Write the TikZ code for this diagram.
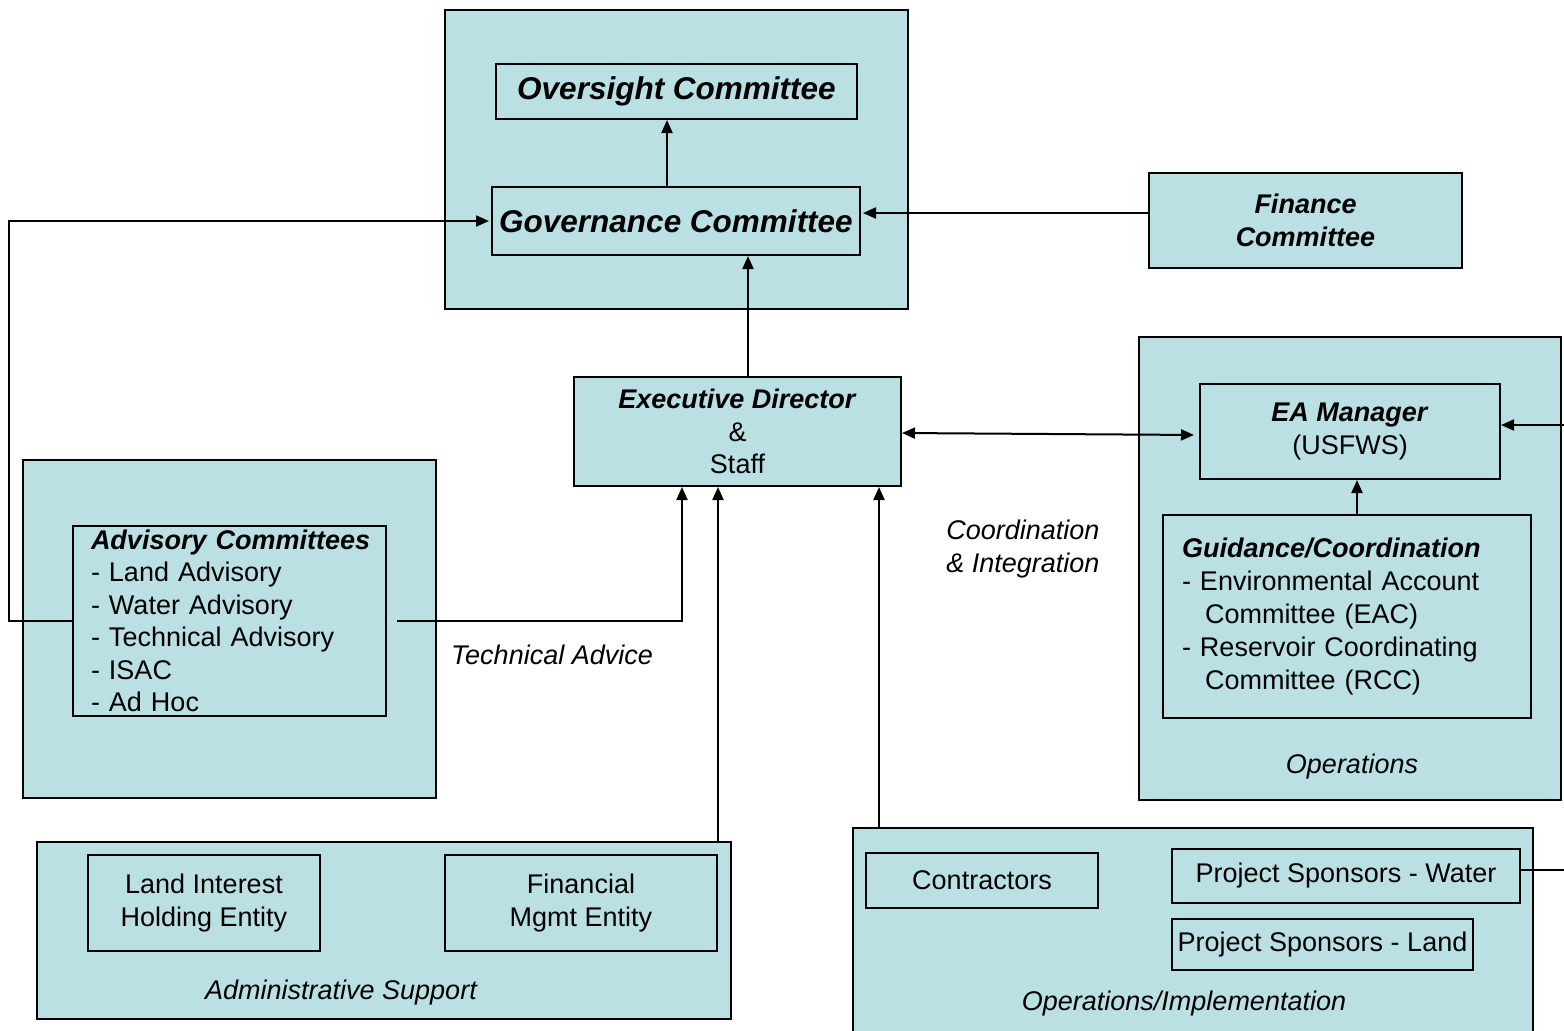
\documentclass[tikz,border=0pt]{standalone}
\usepackage{fontspec}
\setmainfont{Liberation Sans}
\usetikzlibrary{arrows.meta}
\definecolor{tealbg}{RGB}{187,224,227}
\tikzset{
  cont/.style={draw=black, fill=tealbg, line width=1pt, rectangle, inner sep=0pt},
  box/.style={draw=black, fill=tealbg, line width=1pt, rectangle, inner sep=0pt, align=center, font=\fontsize{13.5}{16.25}\selectfont},
  bigbox/.style={box, font=\fontsize{15.75}{19}\selectfont\bfseries\itshape},
  lbl/.style={inner sep=0pt, font=\fontsize{13.5}{16.25}\selectfont\itshape},
  arr/.style={line width=1pt, -{Triangle[length=6.5pt,width=5.5pt]}},
  arrb/.style={line width=1pt, {Triangle[length=6.5pt,width=5.5pt]}-{Triangle[length=6.5pt,width=5.5pt]}},
  ln/.style={line width=1pt}
}
\begin{document}
\begin{tikzpicture}[x=0.5pt,y=-0.5pt]
\useasboundingbox (0,0) rectangle (1564,1030);
\fill[white] (0,0) rectangle (1564,1030);
% containers
\node[cont, minimum width=231.5pt, minimum height=149.5pt] (top) at (676.5,159.5) {};
\node[cont, minimum width=206.5pt, minimum height=169pt] (advc) at (229.5,629) {};
\node[cont, minimum width=211pt, minimum height=231.5pt] (opsc) at (1350,568.5) {};
\node[cont, minimum width=347pt, minimum height=88.5pt] (adm) at (384,930.5) {};
\node[cont, minimum width=340pt, minimum height=103pt] (opi) at (1193,931) {};
% boxes
\node[bigbox, minimum width=180.5pt, minimum height=27.5pt] (ovs) at (676.5,91.5) {\raisebox{-1.5pt}{Oversight Committee}};
\node[bigbox, minimum width=184pt, minimum height=34pt] (gov) at (676,221) {Governance Committee};
\node[box, minimum width=156.5pt, minimum height=47.5pt, font=\fontsize{13.5}{16.25}\selectfont\bfseries\itshape] (fin) at (1305.5,220.5) {Finance\\Committee};
\node[box, minimum width=163.5pt, minimum height=54.5pt] (ed) at (737.5,431.5) {\textbf{\textit{Executive Director}}\\\&\\Staff};
\node[box, minimum width=150pt, minimum height=47.5pt] (ea) at (1350,431.5) {\textbf{\textit{EA Manager}}\\(USFWS)};
\node[box, minimum width=184pt, minimum height=101.5pt, text width=165pt, align=left, font=\fontsize{13.5}{16.5}\selectfont] (gd) at (1347,616.5) {\textbf{\textit{Guidance/Coordination}}\\- Environmental Account\\\hspace*{11.5pt}Committee (EAC)\\- Reservoir Coordinating\\\hspace*{11.5pt}Committee (RCC)};
\node[box, minimum width=156.5pt, minimum height=95pt, text width=138.5pt, align=left] (adv) at (229.5,621) {\mbox{\textbf{\textit{Advisory Committees}}}\\- Land Advisory\\- Water Advisory\\- Technical Advisory\\- ISAC\\- Ad Hoc};
\node[box, minimum width=116pt, minimum height=48pt] (lih) at (204,903) {Land Interest\\Holding Entity};
\node[box, minimum width=136pt, minimum height=48pt] (fme) at (581,903) {Financial\\Mgmt Entity};
\node[box, minimum width=116pt, minimum height=27.5pt] (con) at (982,880.5) {Contractors};
\node[box, minimum width=174pt, minimum height=27pt] (pw) at (1346,876) {Project Sponsors - Water};
\node[box, minimum width=150.5pt, minimum height=25.5pt] (pl) at (1322.5,944.5) {Project Sponsors - Land};
% labels
\node[lbl] (tal) at (552,655) {Technical Advice};
\node[lbl, align=left, anchor=west] (cil) at (946,549) {Coordination\\\& Integration};
\node[lbl] (opl) at (1352,767) {Operations};
\node[lbl] (adl) at (341,992) {Administrative Support};
\node[lbl] (oil) at (1184,1004) {Operations/Implementation};
% connectors
\draw[arr] ([xshift=-4.5pt]gov.north) -- ([xshift=-4.5pt]gov.north |- ovs.south);
\draw[arr] ([yshift=3.75pt]fin.west) -- ([yshift=3.75pt,xshift=1pt]fin.west -| gov.east);
\draw[arr] (adv.west) -- ++(-63,0) |- ([xshift=-1pt]gov.west);
\draw[arr] ([xshift=5.25pt]ed.north) -- ([xshift=5.25pt]ed.north |- gov.south);
\draw[arrb, shorten >=2.5pt] ([yshift=-0.75pt]ed.east) -- ([yshift=-1.75pt]ea.west);
\coordinate (r1) at (1564,425);
\draw[arr] (r1) -- (r1 -| ea.east);
\draw[arr] ([xshift=5pt]gd.north) -- ([xshift=5pt]gd.north |- ea.south);
\coordinate (ta) at (397,621);
\draw[arr] (ta) -| ([xshift=-27.75pt]ed.south);
\draw[arr] ([xshift=-9.75pt]ed.south |- adm.north) -- ([xshift=-9.75pt]ed.south);
\draw[arr] ([xshift=70.75pt]ed.south |- opi.north) -- ([xshift=70.75pt]ed.south);
\coordinate (r2) at (1564,870);
\draw[ln] (pw.east |- r2) -- (r2);
\end{tikzpicture}
\end{document}
